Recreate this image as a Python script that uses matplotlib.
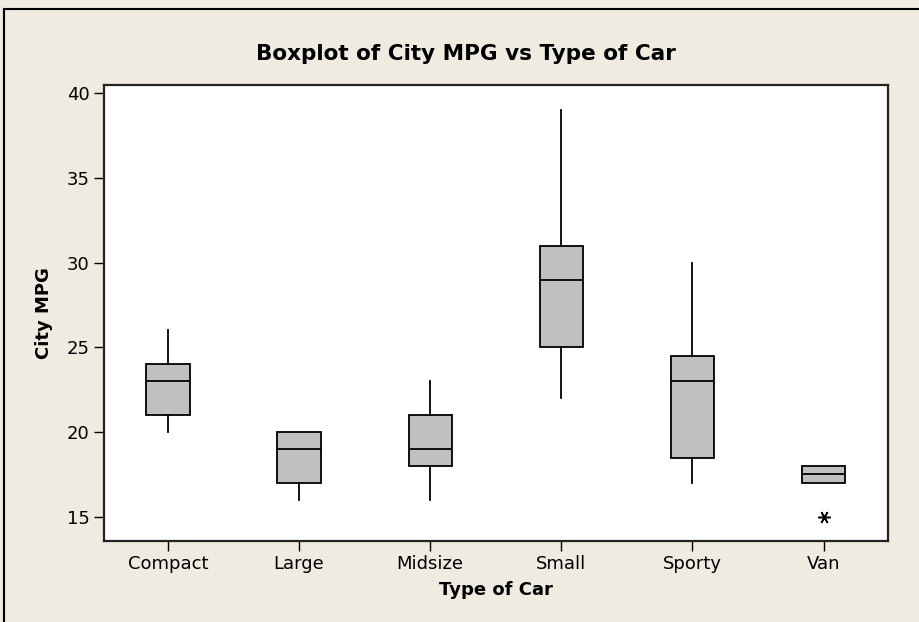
#boxplot of city mpg by type of car (minitab style)

import matplotlib
matplotlib.use('Agg')
import matplotlib.pyplot as plt
from matplotlib.patches import Rectangle

#summary values
types = ['Compact', 'Large', 'Midsize', 'Small', 'Sporty', 'Van']
whislo = [20, 16, 16, 22, 17, 17]
q1 = [21, 17, 18, 25, 18.5, 17]
med = [23, 19, 19, 29, 23, 17.5]
q3 = [24, 20, 21, 31, 24.5, 18]
whishi = [26, 20, 23, 39, 30, 18]
fliers = [[], [], [], [], [], [15]]
yticks = [15, 20, 25, 30, 35, 40]

bg = '#efebe1'
plt.rcParams['font.family'] = 'DejaVu Sans'

fig = plt.figure(figsize=(9.19, 6.22), dpi=100, facecolor=bg)
ax = fig.add_axes([0.1128, 0.1302, 0.8532, 0.7331])

#outer frame (cut by the image on right and bottom)
fig.patches.append(Rectangle((4/919, -0.1), 1.2, 1 - 9/622 + 0.1,
                             transform=fig.transFigure, fill=False,
                             edgecolor='black', linewidth=1.5))

stats = []
for i in range(len(types)):
    stats.append(dict(label=types[i], whislo=whislo[i], q1=q1[i], med=med[i],
                      q3=q3[i], whishi=whishi[i], fliers=fliers[i]))

ax.bxp(stats, positions=range(len(types)), widths=0.33, patch_artist=True,
       showcaps=False,
       boxprops=dict(facecolor='#c0c0c0', edgecolor='black', linewidth=1.3),
       medianprops=dict(color='black', linewidth=1.3),
       whiskerprops=dict(color='black', linewidth=1.3),
       flierprops=dict(marker=(6, 2, 90), markersize=9, markeredgecolor='black',
                       markeredgewidth=1.1, linestyle='none'),
       zorder=3)

ax.set_xlim(-0.49, 5.49)
ax.set_ylim(13.57, 40.49)
ax.set_yticks(yticks)
ax.set_xticks(range(len(types)))
ax.set_xticklabels(types)
ax.tick_params(direction='out', length=7, width=1, labelsize=13, pad=3,
               colors='black')

for s in ax.spines.values():
    s.set_linewidth(1.6)
    s.set_color('#222222')

fig.text(466/919, 1 - 54/622, 'Boxplot of City MPG vs Type of Car',
         fontsize=15.5, fontweight='bold', ha='center', va='center')
ax.set_xlabel('Type of Car', fontsize=13, fontweight='bold', labelpad=6)
ax.set_ylabel('City MPG', fontsize=13, fontweight='bold', labelpad=10)

fig.savefig('out.png', dpi=100, facecolor=bg)
